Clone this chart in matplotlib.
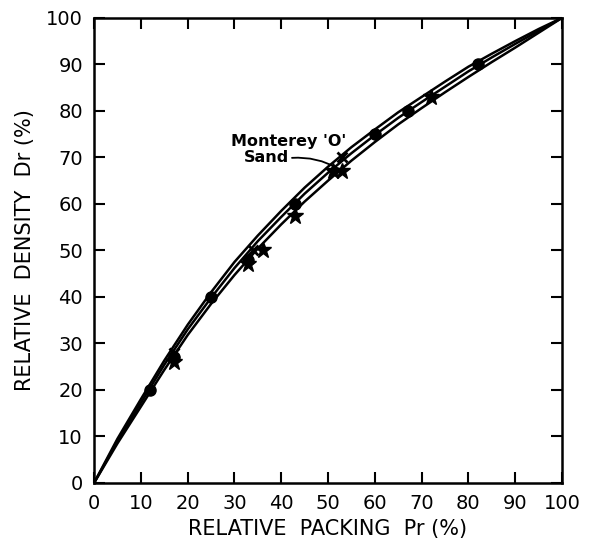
import matplotlib
matplotlib.use("Agg")
import matplotlib.pyplot as plt

# relative packing grid (%) and the three curves
pr = [0, 5, 10, 15, 20, 25, 30, 35, 40, 45, 50, 55, 60, 65, 70, 75, 80, 85, 90, 95, 100]
dr_upper = [0, 9.5, 18, 26.3, 34, 41, 47.5, 53.2, 58.5, 63.5, 68, 72.2, 76, 79.7, 83,
            86.3, 89.5, 92.3, 95, 97.6, 100]
dr_middle = [0, 9, 17.2, 25.4, 33, 39.8, 46.2, 52, 57.2, 62.2, 66.7, 70.9, 74.8, 78.5,
             81.9, 85.2, 88.5, 91.5, 94.4, 97.2, 100]
dr_lower = [0, 8.5, 16.4, 24.3, 31.8, 38.5, 44.7, 50.4, 55.6, 60.5, 65, 69.3, 73.3, 77.1,
            80.6, 84, 87.3, 90.5, 93.6, 96.8, 100]

# test points
circ_pr = [12, 17, 25, 33, 43, 60, 67, 82]
circ_dr = [20, 27, 40, 48, 60, 75, 80, 90]
cross_pr = [17, 34, 53]
cross_dr = [28, 50, 70]
tri_pr = [17, 33, 36, 43, 51, 53, 72]
tri_dr = [26, 47, 50, 57.5, 67, 67, 83]

ticks = list(range(0, 101, 10))

fig = plt.figure(figsize=(6.03, 5.42), dpi=100)
ax = fig.add_axes([0.156, 0.109, 0.776, 0.858])

for d in (dr_upper, dr_middle, dr_lower):
    ax.plot(pr, d, color="black", lw=1.8, zorder=2)

ax.plot(circ_pr, circ_dr, "o", color="black", ms=8, zorder=3)
ax.plot(cross_pr, cross_dr, "x", color="black", ms=7, mew=2, zorder=3)
ax.plot(tri_pr, tri_dr, "*", color="black", ms=12, zorder=3)

ax.text(41.5, 73.5, "Monterey 'O'", ha="center", va="center",
        fontsize=11.5, fontweight="bold")
ax.text(36.8, 69.9, "Sand", ha="center", va="center",
        fontsize=11.5, fontweight="bold")
ax.annotate("", xy=(52.2, 67.6), xytext=(42.3, 69.9),
            arrowprops=dict(arrowstyle="-", color="black", lw=1.3,
                            connectionstyle="arc3,rad=-0.15",
                            shrinkA=0, shrinkB=0))

ax.set_xlim(0, 100)
ax.set_ylim(0, 100)
ax.set_xticks(ticks)
ax.set_yticks(ticks)
ax.tick_params(direction="in", length=8, width=1.5, top=True, right=True,
               labelsize=14, pad=8)
for s in ax.spines.values():
    s.set_linewidth(1.8)

ax.set_xlabel("RELATIVE  PACKING  Pr (%)", fontsize=15, labelpad=4)
ax.set_ylabel("RELATIVE  DENSITY  Dr (%)", fontsize=15, labelpad=8)

fig.savefig("out.png", dpi=100, facecolor="white")
